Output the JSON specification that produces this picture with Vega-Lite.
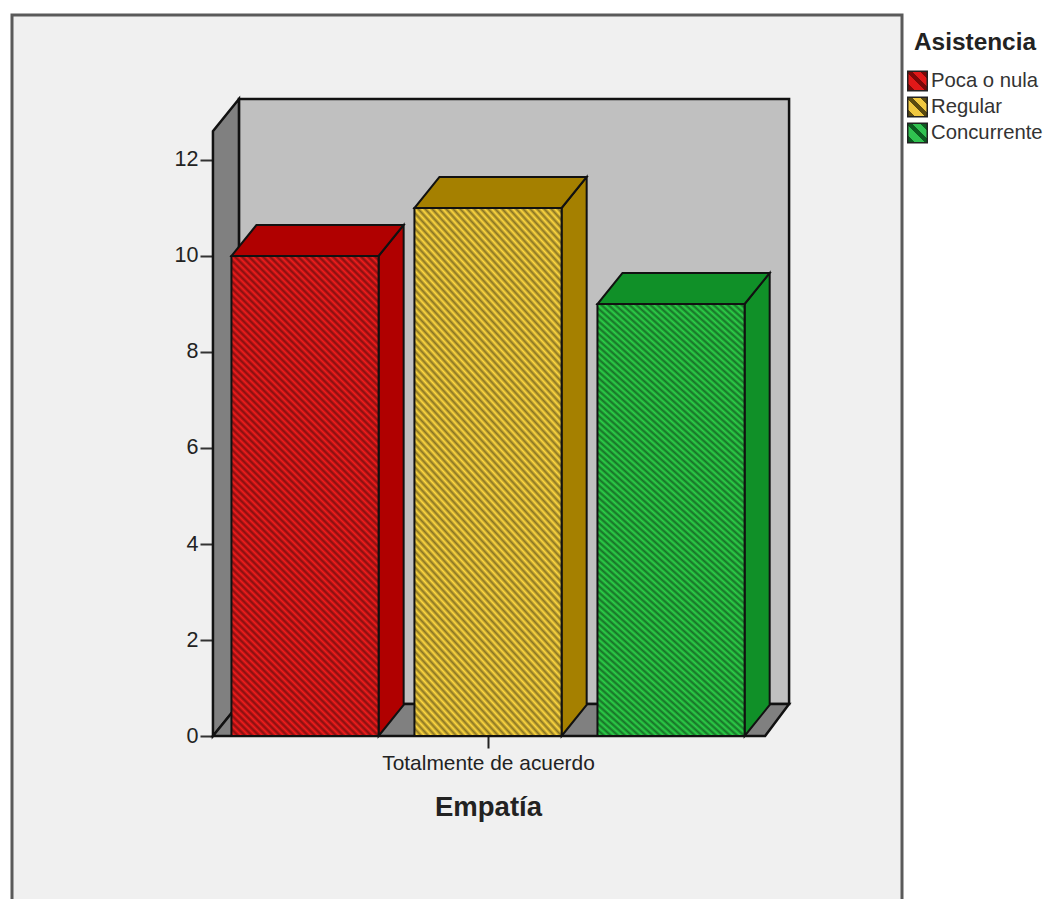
{
"$schema":"https://vega.github.io/schema/vega-lite/v6.json",
"width":890,"height":890,
"padding":{"left":12,"top":15,"right":0,"bottom":0},
"background":"#ffffff",
"config":{"view":{"fill":"#f0f0f0","stroke":"#5a5a5a","strokeWidth":3},"font":"Liberation Sans"},
"datasets":{
"bars":[{"Asistencia":"Poca o nula","n":10,"pos":-1,"base":0},{"Asistencia":"Regular","n":11,"pos":0,"base":0},{"Asistencia":"Concurrente","n":9,"pos":1,"base":0}],
"sideWall":[{"x":-1.503,"y0":0,"y1":12.6},{"x":-1.361,"y0":0.667,"y1":13.27}],
"floor":[{"x":-1.503,"x2":1.514,"y":0},{"x":-1.361,"x2":1.645,"y":0.667}],
"backWall":[{"x":-1.361,"x2":1.645,"y":0.667,"y2":13.27}]
},
"resolve":{"scale":{"color":"independent"}},
"layer":[
{"data":{"name":"backWall"},"mark":{"type":"rect","fill":"#c0c0c0","stroke":"#111111","strokeWidth":2.5},
"encoding":{
"x":{"field":"x","type":"quantitative","scale":{"domain":[-2.601,2.262],"nice":false,"zero":false},
"axis":{"orient":"bottom","offset":-169,"values":[0],"labelExpr":"'Totalmente de acuerdo'","labelLimit":400,"grid":false,"domain":false,"tickSize":12,"tickWidth":2,"tickColor":"#222222","labelFontSize":20.9,"labelColor":"#222222","labelPadding":4,"title":"Empatía","titleFontSize":27.5,"titleColor":"#222222","titlePadding":21,"titleX":476}},
"x2":{"field":"x2"},
"y":{"field":"y","type":"quantitative","scale":{"domain":[-3.5208,15.0208],"nice":false,"zero":false},
"axis":{"orient":"left","offset":-201,"values":[0,2,4,6,8,10,12],"grid":false,"domain":false,"tickSize":13,"tickWidth":2,"tickColor":"#333333","labelFontSize":21.5,"labelColor":"#222222","labelPadding":2,"title":null}},
"y2":{"field":"y2"}}},
{"data":{"name":"sideWall"},"mark":{"type":"area","orient":"vertical","fill":"#808080","stroke":"#111111","strokeWidth":2.5},
"encoding":{"x":{"field":"x","type":"quantitative"},"y":{"field":"y0","type":"quantitative"},"y2":{"field":"y1"}}},
{"data":{"name":"floor"},"mark":{"type":"area","orient":"horizontal","fill":"#808080","stroke":"#111111","strokeWidth":2.5},
"encoding":{"y":{"field":"y","type":"quantitative"},"x":{"field":"x","type":"quantitative"},"x2":{"field":"x2"}}},
{"data":{"name":"bars"},"mark":{"type":"point","filled":true,"size":1,"opacity":1,"fill":"#111111"},
"encoding":{"x":{"field":"pos","type":"quantitative"},"y":{"field":"base","type":"quantitative"},
"shape":{"field":"Asistencia","type":"nominal","scale":{"domain":["Poca o nula","Regular","Concurrente"],"range":["square","square","square"]},
"legend":{"orient":"none","legendX":895,"legendY":16,"title":"Asistencia","titleFontSize":24.4,"titleFontWeight":"bold","titleColor":"#222222","titlePadding":15,"titleAnchor":"middle","labelFontSize":20.3,"labelColor":"#333333","labelOffset":3,"symbolSize":380,"symbolOpacity":1,"rowPadding":-1,
"encoding":{"symbols":{"size":{"value":380},"opacity":{"value":1},"fillOpacity":{"value":1},"stroke":{"value":"#222222"},"strokeWidth":{"value":1.5},"fill":{"value":{"signal":"{gradient:'linear',x1:0,y1:1,x2:1,y2:0,stops:datum.value=='Poca o nula'?[{offset:0,color:'#7a0808'},{offset:0.2,color:'#7a0808'},{offset:0.2,color:'#e01818'},{offset:0.45,color:'#e01818'},{offset:0.45,color:'#7a0808'},{offset:0.6,color:'#7a0808'},{offset:0.6,color:'#e01818'},{offset:0.8,color:'#e01818'},{offset:0.8,color:'#7a0808'},{offset:1,color:'#7a0808'}]:datum.value=='Regular'?[{offset:0,color:'#5a4a10'},{offset:0.2,color:'#5a4a10'},{offset:0.2,color:'#f0c840'},{offset:0.45,color:'#f0c840'},{offset:0.45,color:'#5a4a10'},{offset:0.6,color:'#5a4a10'},{offset:0.6,color:'#f0c840'},{offset:0.8,color:'#f0c840'},{offset:0.8,color:'#5a4a10'},{offset:1,color:'#5a4a10'}]:[{offset:0,color:'#0c5a20'},{offset:0.2,color:'#0c5a20'},{offset:0.2,color:'#30c050'},{offset:0.45,color:'#30c050'},{offset:0.45,color:'#0c5a20'},{offset:0.6,color:'#0c5a20'},{offset:0.6,color:'#30c050'},{offset:0.8,color:'#30c050'},{offset:0.8,color:'#0c5a20'},{offset:1,color:'#0c5a20'}]}"}}}}}}}},
{"data":{"name":"bars"},"transform":[{"calculate":"[0,1]","as":"t"},{"flatten":["t"]},{"calculate":"datum.pos+0.402+datum.t*0.137","as":"xs"},{"calculate":"datum.t*0.646","as":"yb"},{"calculate":"datum.n+datum.t*0.646","as":"yt"}],
"mark":{"type":"area","orient":"vertical","stroke":"#111111","strokeWidth":2},
"encoding":{"x":{"field":"xs","type":"quantitative"},"y":{"field":"yb","type":"quantitative"},"y2":{"field":"yt"},
"color":{"field":"Asistencia","type":"nominal","legend":null,"scale":{"domain":["Poca o nula","Regular","Concurrente"],"range":["#b00000","#a58000","#109028"]}}}},
{"data":{"name":"bars"},"transform":[{"calculate":"[0,1]","as":"t"},{"flatten":["t"]},{"calculate":"datum.pos-0.402+datum.t*0.137","as":"xa"},{"calculate":"datum.pos+0.402+datum.t*0.137","as":"xb"},{"calculate":"datum.n+datum.t*0.646","as":"yt"}],
"mark":{"type":"area","orient":"horizontal","stroke":"#111111","strokeWidth":2},
"encoding":{"y":{"field":"yt","type":"quantitative"},"x":{"field":"xa","type":"quantitative"},"x2":{"field":"xb"},
"color":{"field":"Asistencia","type":"nominal","legend":null,"scale":{"domain":["Poca o nula","Regular","Concurrente"],"range":["#b00000","#a58000","#109028"]}}}},
{"data":{"name":"bars"},"transform":[{"calculate":"datum.pos-0.402","as":"xl"},{"calculate":"datum.pos+0.402","as":"xr"}],
"mark":{"type":"rect"},
"encoding":{"x":{"field":"xl","type":"quantitative"},"x2":{"field":"xr"},"y":{"field":"base","type":"quantitative"},"y2":{"field":"n"},
"color":{"field":"Asistencia","type":"nominal","legend":null,"scale":{"domain":["Poca o nula","Regular","Concurrente"],"range":["#f01c1c","#ffd840","#2cd048"]}}}},
{"data":{"name":"bars"},"transform":[{"calculate":"datum.pos-0.402","as":"xl"},{"calculate":"datum.pos+0.402","as":"xr"}],
"mark":{"type":"rect","stroke":"#111111","strokeWidth":2,"fillOpacity":0.58,"fill":{"gradient":"linear","x1":0,"y1":1,"x2":0.408,"y2":-0.333,"stops":[
{"offset":0,"color":"#000c"},{"offset":0.005,"color":"#0000"},{"offset":0.01,"color":"#000c"},{"offset":0.015,"color":"#0000"},{"offset":0.02,"color":"#000c"},{"offset":0.025,"color":"#0000"},{"offset":0.03,"color":"#000c"},{"offset":0.035,"color":"#0000"},{"offset":0.04,"color":"#000c"},{"offset":0.045,"color":"#0000"},
{"offset":0.05,"color":"#000c"},{"offset":0.055,"color":"#0000"},{"offset":0.06,"color":"#000c"},{"offset":0.065,"color":"#0000"},{"offset":0.07,"color":"#000c"},{"offset":0.075,"color":"#0000"},{"offset":0.08,"color":"#000c"},{"offset":0.085,"color":"#0000"},{"offset":0.09,"color":"#000c"},{"offset":0.095,"color":"#0000"},
{"offset":0.1,"color":"#000c"},{"offset":0.105,"color":"#0000"},{"offset":0.11,"color":"#000c"},{"offset":0.115,"color":"#0000"},{"offset":0.12,"color":"#000c"},{"offset":0.125,"color":"#0000"},{"offset":0.13,"color":"#000c"},{"offset":0.135,"color":"#0000"},{"offset":0.14,"color":"#000c"},{"offset":0.145,"color":"#0000"},
{"offset":0.15,"color":"#000c"},{"offset":0.155,"color":"#0000"},{"offset":0.16,"color":"#000c"},{"offset":0.165,"color":"#0000"},{"offset":0.17,"color":"#000c"},{"offset":0.175,"color":"#0000"},{"offset":0.18,"color":"#000c"},{"offset":0.185,"color":"#0000"},{"offset":0.19,"color":"#000c"},{"offset":0.195,"color":"#0000"},
{"offset":0.2,"color":"#000c"},{"offset":0.205,"color":"#0000"},{"offset":0.21,"color":"#000c"},{"offset":0.215,"color":"#0000"},{"offset":0.22,"color":"#000c"},{"offset":0.225,"color":"#0000"},{"offset":0.23,"color":"#000c"},{"offset":0.235,"color":"#0000"},{"offset":0.24,"color":"#000c"},{"offset":0.245,"color":"#0000"},
{"offset":0.25,"color":"#000c"},{"offset":0.255,"color":"#0000"},{"offset":0.26,"color":"#000c"},{"offset":0.265,"color":"#0000"},{"offset":0.27,"color":"#000c"},{"offset":0.275,"color":"#0000"},{"offset":0.28,"color":"#000c"},{"offset":0.285,"color":"#0000"},{"offset":0.29,"color":"#000c"},{"offset":0.295,"color":"#0000"},
{"offset":0.3,"color":"#000c"},{"offset":0.305,"color":"#0000"},{"offset":0.31,"color":"#000c"},{"offset":0.315,"color":"#0000"},{"offset":0.32,"color":"#000c"},{"offset":0.325,"color":"#0000"},{"offset":0.33,"color":"#000c"},{"offset":0.335,"color":"#0000"},{"offset":0.34,"color":"#000c"},{"offset":0.345,"color":"#0000"},
{"offset":0.35,"color":"#000c"},{"offset":0.355,"color":"#0000"},{"offset":0.36,"color":"#000c"},{"offset":0.365,"color":"#0000"},{"offset":0.37,"color":"#000c"},{"offset":0.375,"color":"#0000"},{"offset":0.38,"color":"#000c"},{"offset":0.385,"color":"#0000"},{"offset":0.39,"color":"#000c"},{"offset":0.395,"color":"#0000"},
{"offset":0.4,"color":"#000c"},{"offset":0.405,"color":"#0000"},{"offset":0.41,"color":"#000c"},{"offset":0.415,"color":"#0000"},{"offset":0.42,"color":"#000c"},{"offset":0.425,"color":"#0000"},{"offset":0.43,"color":"#000c"},{"offset":0.435,"color":"#0000"},{"offset":0.44,"color":"#000c"},{"offset":0.445,"color":"#0000"},
{"offset":0.45,"color":"#000c"},{"offset":0.455,"color":"#0000"},{"offset":0.46,"color":"#000c"},{"offset":0.465,"color":"#0000"},{"offset":0.47,"color":"#000c"},{"offset":0.475,"color":"#0000"},{"offset":0.48,"color":"#000c"},{"offset":0.485,"color":"#0000"},{"offset":0.49,"color":"#000c"},{"offset":0.495,"color":"#0000"},
{"offset":0.5,"color":"#000c"},{"offset":0.505,"color":"#0000"},{"offset":0.51,"color":"#000c"},{"offset":0.515,"color":"#0000"},{"offset":0.52,"color":"#000c"},{"offset":0.525,"color":"#0000"},{"offset":0.53,"color":"#000c"},{"offset":0.535,"color":"#0000"},{"offset":0.54,"color":"#000c"},{"offset":0.545,"color":"#0000"},
{"offset":0.55,"color":"#000c"},{"offset":0.555,"color":"#0000"},{"offset":0.56,"color":"#000c"},{"offset":0.565,"color":"#0000"},{"offset":0.57,"color":"#000c"},{"offset":0.575,"color":"#0000"},{"offset":0.58,"color":"#000c"},{"offset":0.585,"color":"#0000"},{"offset":0.59,"color":"#000c"},{"offset":0.595,"color":"#0000"},
{"offset":0.6,"color":"#000c"},{"offset":0.605,"color":"#0000"},{"offset":0.61,"color":"#000c"},{"offset":0.615,"color":"#0000"},{"offset":0.62,"color":"#000c"},{"offset":0.625,"color":"#0000"},{"offset":0.63,"color":"#000c"},{"offset":0.635,"color":"#0000"},{"offset":0.64,"color":"#000c"},{"offset":0.645,"color":"#0000"},
{"offset":0.65,"color":"#000c"},{"offset":0.655,"color":"#0000"},{"offset":0.66,"color":"#000c"},{"offset":0.665,"color":"#0000"},{"offset":0.67,"color":"#000c"},{"offset":0.675,"color":"#0000"},{"offset":0.68,"color":"#000c"},{"offset":0.685,"color":"#0000"},{"offset":0.69,"color":"#000c"},{"offset":0.695,"color":"#0000"},
{"offset":0.7,"color":"#000c"},{"offset":0.705,"color":"#0000"},{"offset":0.71,"color":"#000c"},{"offset":0.715,"color":"#0000"},{"offset":0.72,"color":"#000c"},{"offset":0.725,"color":"#0000"},{"offset":0.73,"color":"#000c"},{"offset":0.735,"color":"#0000"},{"offset":0.74,"color":"#000c"},{"offset":0.745,"color":"#0000"},
{"offset":0.75,"color":"#000c"},{"offset":0.755,"color":"#0000"},{"offset":0.76,"color":"#000c"},{"offset":0.765,"color":"#0000"},{"offset":0.77,"color":"#000c"},{"offset":0.775,"color":"#0000"},{"offset":0.78,"color":"#000c"},{"offset":0.785,"color":"#0000"},{"offset":0.79,"color":"#000c"},{"offset":0.795,"color":"#0000"},
{"offset":0.8,"color":"#000c"},{"offset":0.805,"color":"#0000"},{"offset":0.81,"color":"#000c"},{"offset":0.815,"color":"#0000"},{"offset":0.82,"color":"#000c"},{"offset":0.825,"color":"#0000"},{"offset":0.83,"color":"#000c"},{"offset":0.835,"color":"#0000"},{"offset":0.84,"color":"#000c"},{"offset":0.845,"color":"#0000"},
{"offset":0.85,"color":"#000c"},{"offset":0.855,"color":"#0000"},{"offset":0.86,"color":"#000c"},{"offset":0.865,"color":"#0000"},{"offset":0.87,"color":"#000c"},{"offset":0.875,"color":"#0000"},{"offset":0.88,"color":"#000c"},{"offset":0.885,"color":"#0000"},{"offset":0.89,"color":"#000c"},{"offset":0.895,"color":"#0000"},
{"offset":0.9,"color":"#000c"},{"offset":0.905,"color":"#0000"},{"offset":0.91,"color":"#000c"},{"offset":0.915,"color":"#0000"},{"offset":0.92,"color":"#000c"},{"offset":0.925,"color":"#0000"},{"offset":0.93,"color":"#000c"},{"offset":0.935,"color":"#0000"},{"offset":0.94,"color":"#000c"},{"offset":0.945,"color":"#0000"},
{"offset":0.95,"color":"#000c"},{"offset":0.955,"color":"#0000"},{"offset":0.96,"color":"#000c"},{"offset":0.965,"color":"#0000"},{"offset":0.97,"color":"#000c"},{"offset":0.975,"color":"#0000"},{"offset":0.98,"color":"#000c"},{"offset":0.985,"color":"#0000"},{"offset":0.99,"color":"#000c"},{"offset":0.995,"color":"#0000"}
]}},
"encoding":{"x":{"field":"xl","type":"quantitative"},"x2":{"field":"xr"},"y":{"field":"base","type":"quantitative"},"y2":{"field":"n"}}}
]
}
